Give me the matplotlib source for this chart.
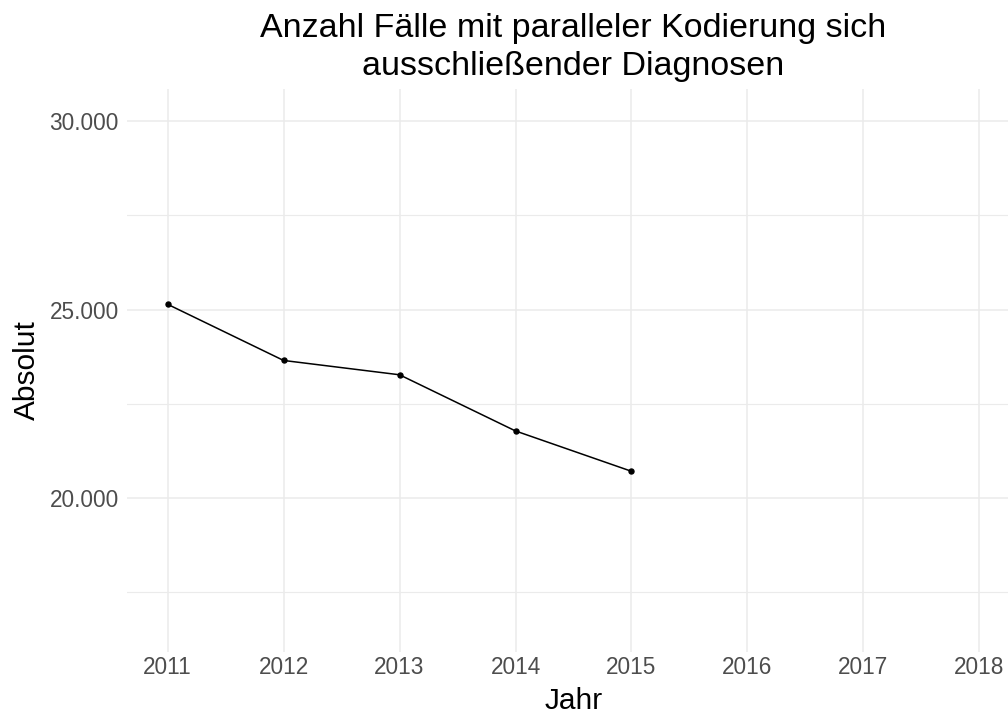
import matplotlib
matplotlib.use("Agg")
import matplotlib.pyplot as plt
from matplotlib.ticker import FuncFormatter, MultipleLocator

plt.rcParams['font.family'] = ['Liberation Sans', 'DejaVu Sans']

# Cases with parallel coding of mutually exclusive diagnoses
jahre = [2011, 2012, 2013, 2014, 2015]
faelle = [25140, 23650, 23270, 21780, 20710]
x_ticks = [2011, 2012, 2013, 2014, 2015, 2016, 2017, 2018]
y_ticks = [20000, 25000, 30000]

title = "Anzahl Fälle mit paralleler Kodierung sich\nausschließender Diagnosen"

fig = plt.figure(figsize=(10.08, 7.15), dpi=100)
ax = fig.add_axes([127 / 1008, 1 - 651.7 / 715, (1020 - 127) / 1008, (651.7 - 89) / 715])

ax.plot(jahre, faelle, color="black", linewidth=1.1, marker="o", markersize=3.6, zorder=3)

ax.set_xlim(2010.65, 2018.35)
ax.set_ylim(15925, 30850)
ax.set_xticks(x_ticks)
ax.set_yticks(y_ticks)
ax.yaxis.set_minor_locator(MultipleLocator(2500))
ax.yaxis.set_major_formatter(FuncFormatter(lambda v, p: f"{int(v):,}".replace(",", ".")))

ax.grid(True, which="major", color="#EBEBEB", linewidth=1.1)
ax.grid(True, which="minor", axis="y", color="#EBEBEB", linewidth=0.8)
ax.set_axisbelow(True)
for s in ax.spines.values():
    s.set_visible(False)
ax.tick_params(which="both", length=0, labelsize=16.3, labelcolor="#4D4D4D")
ax.tick_params(axis="x", pad=3)
ax.tick_params(axis="y", pad=6)

ax.set_xlabel("Jahr", fontsize=21.5, color="black", labelpad=6)
ax.set_ylabel("Absolut", fontsize=21.5, color="black", labelpad=6)
ax.set_title(title, fontsize=24.5, color="black", pad=10, linespacing=1.3)

fig.savefig("out.png", dpi=100)
